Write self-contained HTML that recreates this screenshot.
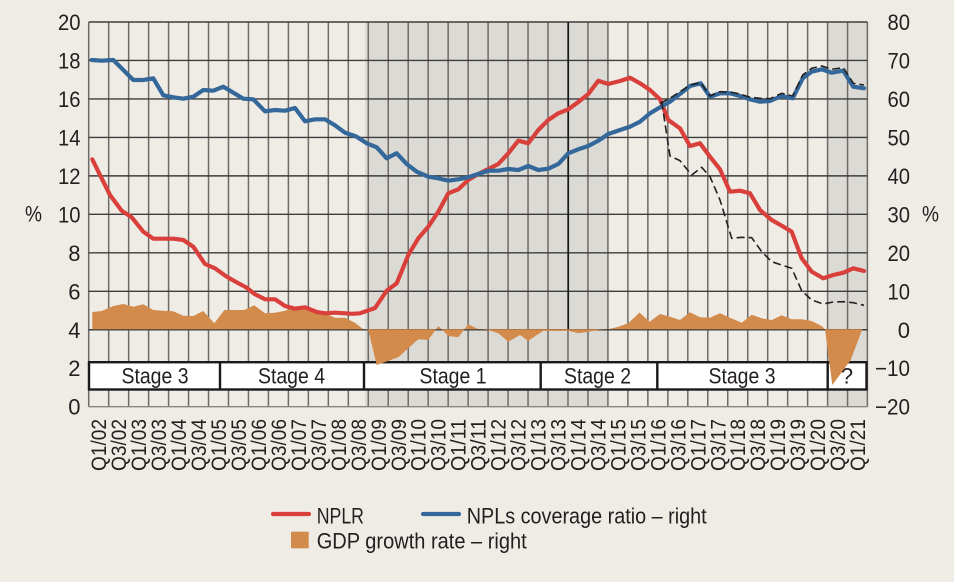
<!DOCTYPE html>
<html>
<head>
<meta charset="utf-8">
<style>
  html, body { margin: 0; padding: 0; background: #efece6; }
  svg { display: block; }
  text { font-family: "Liberation Sans", "DejaVu Sans", sans-serif; fill: #231f20; }
</style>
</head>
<body>
<svg width="954" height="582" viewBox="0 0 954 582" xmlns="http://www.w3.org/2000/svg">
  <rect x="0" y="0" width="954" height="582" fill="#efece6"/>

  <!-- shaded periods -->
  <rect x="365" y="22" width="242.5" height="384.7" fill="#dcdad5"/>
  <rect x="827.6" y="22" width="39.9" height="384.7" fill="#dcdad5"/>

  <!-- vertical grid -->
  <path fill="none" stroke="#6e6a66" stroke-width="1.5" d="
    M88.7 22V406.7 M108.67 22V406.7 M128.64 22V406.7 M148.61 22V406.7 M168.58 22V406.7
    M188.55 22V406.7 M208.52 22V406.7 M228.49 22V406.7 M248.46 22V406.7 M268.43 22V406.7
    M288.4 22V406.7 M308.37 22V406.7 M328.34 22V406.7 M348.31 22V406.7 M368.28 22V406.7
    M388.25 22V406.7 M408.22 22V406.7 M428.19 22V406.7 M448.16 22V406.7 M468.13 22V406.7
    M488.1 22V406.7 M508.07 22V406.7 M528.04 22V406.7 M548.01 22V406.7 M567.98 22V406.7
    M587.95 22V406.7 M607.92 22V406.7 M627.89 22V406.7 M647.86 22V406.7 M667.83 22V406.7
    M687.8 22V406.7 M707.77 22V406.7 M727.74 22V406.7 M747.71 22V406.7 M767.68 22V406.7
    M787.65 22V406.7 M807.62 22V406.7 M827.59 22V406.7 M847.56 22V406.7 M867.4 22V406.7"/>
  <!-- horizontal grid -->
  <path fill="none" stroke="#3d3d3d" stroke-width="1.4" d="
    M88.7 22H867.4 M88.7 60.47H867.4 M88.7 98.94H867.4 M88.7 137.41H867.4 M88.7 175.88H867.4
    M88.7 214.35H867.4 M88.7 252.82H867.4 M88.7 291.29H867.4 M88.7 329.76H867.4 M88.7 368.23H867.4"/>
  <path fill="none" stroke="#8a8580" stroke-width="1.4" d="M88.7 406.7H867.4"/>
  <!-- stage boundary line -->
  <path fill="none" stroke="#1a1a1a" stroke-width="1.6" d="M568.3 22V331"/>

  <!-- stage boxes -->
  <rect x="89" y="362.2" width="777.5" height="27.3" fill="#ffffff" stroke="#1a1a1a" stroke-width="2.4"/>
  <path fill="none" stroke="#1a1a1a" stroke-width="2.4" d="M220 362.2V389.5 M364 362.2V389.5 M540.7 362.2V389.5 M657.3 362.2V389.5 M827.7 362.2V389.5"/>
  <g font-size="22" text-anchor="middle">
    <text x="155" y="383.5" textLength="67" lengthAdjust="spacingAndGlyphs">Stage 3</text>
    <text x="291.5" y="383.5" textLength="67" lengthAdjust="spacingAndGlyphs">Stage 4</text>
    <text x="453" y="383.5" textLength="67" lengthAdjust="spacingAndGlyphs">Stage 1</text>
    <text x="597.5" y="383.5" textLength="67" lengthAdjust="spacingAndGlyphs">Stage 2</text>
    <text x="742" y="383.5" textLength="67" lengthAdjust="spacingAndGlyphs">Stage 3</text>
    <text x="847" y="383.5">?</text>
  </g>

  <!-- GDP area -->
  <polygon fill="#d38b4c" points="
    92.3,329.3 92.3,312 101.7,311 113.3,306 123.3,304 133.3,306.7 143.3,304.3 153.3,310 163.3,310.7 173.3,311.3
    183.3,315.7 193.3,316 203.3,311 214.3,323.3 224.3,310 234.3,310 244.3,310 254.3,305.3 265,313.3 275,312.7
    285,310.7 296.7,306.3 305,307.3 316.7,311.3 325,313.3 335,317.7 345,317.7 355,322.7 363.3,329.3 368.3,330
    376.7,365 398.3,357.3 418.3,339.3 428.3,340 438.3,326 448.3,336 458.3,337.3 468.3,324.3 478.3,329.3 488.3,330
    498.3,333.3 508.3,341.7 520,335 528.3,340.7 543.3,330.7 560,331 568.3,330.7 578.3,333.3 588.3,331.7 598.3,330
    608.3,329.3 618.3,326.7 628.3,323.3 639.5,312.5 649.5,321.7 660,314 670,316.7 680,320 690,312.3 700,317.3
    710,317.7 720,313.3 730,317.7 741.7,322.7 751.7,314.7 761.7,318.3 771.7,320 781.7,315.3 791.7,319.3 801.7,319.3
    811.7,321 821.7,326 825,329.3 832.3,385 850.7,360 862.3,329.3"/>

  <!-- NPLR -->
  <polyline fill="none" stroke="#d9403c" stroke-width="4.2" stroke-linejoin="round" stroke-linecap="round" points="
    92.3,159.3 100,175 110,195 121.7,210.7 131.7,217.3 143.3,231.7 153.3,238.7 163.3,238.7 173.3,238.7 183.3,240
    193.3,246.7 205,264 215,268.3 226.7,276.7 236.7,282.3 246.7,287.7 255,294.3 265,299.3 275,299.3 285,306
    295,308.7 305,307.3 316.7,312 325,313.3 335,312.7 345,313.3 352,313.8 360,313.3 375,308 386.7,290.7
    396.7,283.3 408.3,255 418.3,238.3 428.3,226.7 438.3,211.7 448.3,193.3 458.3,189.3 468.3,180 478.3,174 488.3,169
    498.3,164 508.3,153.3 518.3,140.7 528.3,143.3 538.3,130 548.3,120 558.3,113.3 568.3,109.3 578.3,102 588.3,94
    598.3,80.7 608.3,84 620,81 630,77.7 640,83.3 650,90 660,99.3 668.3,120 680,128.3 690,146
    700,143.3 710,156.7 720,169.3 730,191.7 740,190.7 750,193.3 760,210 771.7,220 781.7,225.7 791.7,231.7
    801.7,258.3 811.7,271.7 823.3,278.3 833.3,275 843.3,272.7 853.3,268.3 864,271"/>

  <!-- NPL coverage ratio -->
  <polyline fill="none" stroke="#34679a" stroke-width="4.2" stroke-linejoin="round" stroke-linecap="round" points="
    91.7,60 101.7,60.7 113.3,60 123.3,70 133.3,80 143.3,80 153.3,78.3 163.3,95.3 173.3,97.3 183.3,98.7
    193.3,96.7 203.3,90 213.3,90.7 223.3,86.7 233.3,92.7 243.3,98.7 253.3,99.3 265,111.3 275,110 285,110.7
    295,108 305,121.3 315,119.3 325,119.3 335,125.3 345,132.7 352,135 356.7,136.7 366.7,143.3 376.7,147.3
    386.7,158.3 396.7,153.3 406.7,164 416.7,171.7 428.3,176.7 438.3,178.3 448.3,180.7 458.3,179.3 468.3,177.3 478.3,174
    488.3,170.7 498.3,170.7 508.3,169 518.3,170 528.3,166 538.3,170 548.3,168.7 558.3,164 568.3,153.3 578.3,149.3
    588.3,146 598.3,140.7 608.3,134 620,130 630,126.7 640,121.7 650,113.3 660,107.3 670,101.7 680,94
    690,86 700.7,83.3 710,96.7 720,93.3 730,93.3 740,96 750,99.3 760,101.7 770,101 781.7,96
    792.7,98.3 802.7,78.3 811.7,71.7 821.7,69.3 831.7,72.7 843.3,70.7 853.3,86.7 864,88.3"/>

  <!-- dashed alternatives -->
  <polyline fill="none" stroke="#222" stroke-width="1.6" stroke-dasharray="8,4" points="
    660,103.3 670,98.3 680,91.7 690,85 700.7,82.7 710,96 720,91.7 730,92 740,94 750,97.3 760,98.3 770,98.7
    781.7,93.3 792.7,96 802.7,75 811.7,68.3 821.7,66 831.7,69.3 843.3,67.7 853.3,83.3 864,85"/>
  <polyline fill="none" stroke="#222" stroke-width="1.6" stroke-dasharray="8,4" points="
    661.7,101.7 670,156 680,160.7 691.7,175 701.7,167.3 710,176.7 720,200 731.7,238.3 741.7,237.3 751.7,237.7
    761.7,251.7 771.7,261.7 781.7,265 791.7,268.3 801.7,290.7 811.7,300 823.3,304 833.3,302 843.3,301.7 853.3,302.7 864,305.3"/>

  <!-- left axis labels -->
  <g font-size="22" text-anchor="end">
    <text x="80.5" y="30" textLength="22.5" lengthAdjust="spacingAndGlyphs">20</text>
    <text x="80.5" y="68.5" textLength="22.5" lengthAdjust="spacingAndGlyphs">18</text>
    <text x="80.5" y="107" textLength="22.5" lengthAdjust="spacingAndGlyphs">16</text>
    <text x="80.5" y="145.4" textLength="22.5" lengthAdjust="spacingAndGlyphs">14</text>
    <text x="80.5" y="183.9" textLength="22.5" lengthAdjust="spacingAndGlyphs">12</text>
    <text x="80.5" y="222.4" textLength="22.5" lengthAdjust="spacingAndGlyphs">10</text>
    <text x="80.5" y="260.8">8</text>
    <text x="80.5" y="299.3">6</text>
    <text x="80.5" y="337.8">4</text>
    <text x="80.5" y="376.2">2</text>
    <text x="80.5" y="414.7">0</text>
  </g>
  <!-- right axis labels -->
  <g font-size="22" text-anchor="end">
    <text x="910" y="30" textLength="22.5" lengthAdjust="spacingAndGlyphs">80</text>
    <text x="910" y="68.5" textLength="22.5" lengthAdjust="spacingAndGlyphs">70</text>
    <text x="910" y="107" textLength="22.5" lengthAdjust="spacingAndGlyphs">60</text>
    <text x="910" y="145.4" textLength="22.5" lengthAdjust="spacingAndGlyphs">50</text>
    <text x="910" y="183.9" textLength="22.5" lengthAdjust="spacingAndGlyphs">40</text>
    <text x="910" y="222.4" textLength="22.5" lengthAdjust="spacingAndGlyphs">30</text>
    <text x="910" y="260.8" textLength="22.5" lengthAdjust="spacingAndGlyphs">20</text>
    <text x="910" y="299.3" textLength="22.5" lengthAdjust="spacingAndGlyphs">10</text>
    <text x="910" y="337.8">0</text>
    <text x="910" y="376.2" textLength="35" lengthAdjust="spacingAndGlyphs">−10</text>
    <text x="910" y="414.7" textLength="35" lengthAdjust="spacingAndGlyphs">−20</text>
  </g>
  <text x="25" y="221.5" font-size="22" textLength="17" lengthAdjust="spacingAndGlyphs">%</text>
  <text x="922" y="221.5" font-size="22" textLength="17" lengthAdjust="spacingAndGlyphs">%</text>

  <!-- x labels -->
  <g font-size="21">
    <text transform="translate(98.7,471) rotate(-90)" y="7.5" textLength="52" lengthAdjust="spacingAndGlyphs">Q1/02</text>
    <text transform="translate(118.67,471) rotate(-90)" y="7.5" textLength="52" lengthAdjust="spacingAndGlyphs">Q3/02</text>
    <text transform="translate(138.64,471) rotate(-90)" y="7.5" textLength="52" lengthAdjust="spacingAndGlyphs">Q1/03</text>
    <text transform="translate(158.61,471) rotate(-90)" y="7.5" textLength="52" lengthAdjust="spacingAndGlyphs">Q3/03</text>
    <text transform="translate(178.58,471) rotate(-90)" y="7.5" textLength="52" lengthAdjust="spacingAndGlyphs">Q1/04</text>
    <text transform="translate(198.55,471) rotate(-90)" y="7.5" textLength="52" lengthAdjust="spacingAndGlyphs">Q3/04</text>
    <text transform="translate(218.52,471) rotate(-90)" y="7.5" textLength="52" lengthAdjust="spacingAndGlyphs">Q1/05</text>
    <text transform="translate(238.49,471) rotate(-90)" y="7.5" textLength="52" lengthAdjust="spacingAndGlyphs">Q3/05</text>
    <text transform="translate(258.46,471) rotate(-90)" y="7.5" textLength="52" lengthAdjust="spacingAndGlyphs">Q1/06</text>
    <text transform="translate(278.43,471) rotate(-90)" y="7.5" textLength="52" lengthAdjust="spacingAndGlyphs">Q3/06</text>
    <text transform="translate(298.4,471) rotate(-90)" y="7.5" textLength="52" lengthAdjust="spacingAndGlyphs">Q1/07</text>
    <text transform="translate(318.37,471) rotate(-90)" y="7.5" textLength="52" lengthAdjust="spacingAndGlyphs">Q3/07</text>
    <text transform="translate(338.34,471) rotate(-90)" y="7.5" textLength="52" lengthAdjust="spacingAndGlyphs">Q1/08</text>
    <text transform="translate(358.31,471) rotate(-90)" y="7.5" textLength="52" lengthAdjust="spacingAndGlyphs">Q3/08</text>
    <text transform="translate(378.28,471) rotate(-90)" y="7.5" textLength="52" lengthAdjust="spacingAndGlyphs">Q1/09</text>
    <text transform="translate(398.25,471) rotate(-90)" y="7.5" textLength="52" lengthAdjust="spacingAndGlyphs">Q3/09</text>
    <text transform="translate(418.22,471) rotate(-90)" y="7.5" textLength="52" lengthAdjust="spacingAndGlyphs">Q1/10</text>
    <text transform="translate(438.19,471) rotate(-90)" y="7.5" textLength="52" lengthAdjust="spacingAndGlyphs">Q3/10</text>
    <text transform="translate(458.16,471) rotate(-90)" y="7.5" textLength="52" lengthAdjust="spacingAndGlyphs">Q1/11</text>
    <text transform="translate(478.13,471) rotate(-90)" y="7.5" textLength="52" lengthAdjust="spacingAndGlyphs">Q3/11</text>
    <text transform="translate(498.1,471) rotate(-90)" y="7.5" textLength="52" lengthAdjust="spacingAndGlyphs">Q1/12</text>
    <text transform="translate(518.07,471) rotate(-90)" y="7.5" textLength="52" lengthAdjust="spacingAndGlyphs">Q3/12</text>
    <text transform="translate(538.04,471) rotate(-90)" y="7.5" textLength="52" lengthAdjust="spacingAndGlyphs">Q1/13</text>
    <text transform="translate(558.01,471) rotate(-90)" y="7.5" textLength="52" lengthAdjust="spacingAndGlyphs">Q3/13</text>
    <text transform="translate(577.98,471) rotate(-90)" y="7.5" textLength="52" lengthAdjust="spacingAndGlyphs">Q1/14</text>
    <text transform="translate(597.95,471) rotate(-90)" y="7.5" textLength="52" lengthAdjust="spacingAndGlyphs">Q3/14</text>
    <text transform="translate(617.92,471) rotate(-90)" y="7.5" textLength="52" lengthAdjust="spacingAndGlyphs">Q1/15</text>
    <text transform="translate(637.89,471) rotate(-90)" y="7.5" textLength="52" lengthAdjust="spacingAndGlyphs">Q3/15</text>
    <text transform="translate(657.86,471) rotate(-90)" y="7.5" textLength="52" lengthAdjust="spacingAndGlyphs">Q1/16</text>
    <text transform="translate(677.83,471) rotate(-90)" y="7.5" textLength="52" lengthAdjust="spacingAndGlyphs">Q3/16</text>
    <text transform="translate(697.8,471) rotate(-90)" y="7.5" textLength="52" lengthAdjust="spacingAndGlyphs">Q1/17</text>
    <text transform="translate(717.77,471) rotate(-90)" y="7.5" textLength="52" lengthAdjust="spacingAndGlyphs">Q3/17</text>
    <text transform="translate(737.74,471) rotate(-90)" y="7.5" textLength="52" lengthAdjust="spacingAndGlyphs">Q1/18</text>
    <text transform="translate(757.71,471) rotate(-90)" y="7.5" textLength="52" lengthAdjust="spacingAndGlyphs">Q3/18</text>
    <text transform="translate(777.68,471) rotate(-90)" y="7.5" textLength="52" lengthAdjust="spacingAndGlyphs">Q1/19</text>
    <text transform="translate(797.65,471) rotate(-90)" y="7.5" textLength="52" lengthAdjust="spacingAndGlyphs">Q3/19</text>
    <text transform="translate(817.62,471) rotate(-90)" y="7.5" textLength="52" lengthAdjust="spacingAndGlyphs">Q1/20</text>
    <text transform="translate(837.59,471) rotate(-90)" y="7.5" textLength="52" lengthAdjust="spacingAndGlyphs">Q3/20</text>
    <text transform="translate(857.56,471) rotate(-90)" y="7.5" textLength="52" lengthAdjust="spacingAndGlyphs">Q1/21</text>
  </g>

  <!-- legend -->
  <line x1="273" y1="514" x2="309" y2="514" stroke="#d9403c" stroke-width="4.2" stroke-linecap="round"/>
  <text x="316.7" y="523.5" font-size="22" textLength="47.3" lengthAdjust="spacingAndGlyphs">NPLR</text>
  <line x1="423" y1="514" x2="459" y2="514" stroke="#34679a" stroke-width="4.2" stroke-linecap="round"/>
  <text x="466.7" y="523.5" font-size="22" textLength="240" lengthAdjust="spacingAndGlyphs">NPLs coverage ratio – right</text>
  <rect x="291" y="531.7" width="17.7" height="16.6" fill="#d38b4c"/>
  <text x="316.7" y="548.5" font-size="22" textLength="210" lengthAdjust="spacingAndGlyphs">GDP growth rate – right</text>
</svg>
</body>
</html>
